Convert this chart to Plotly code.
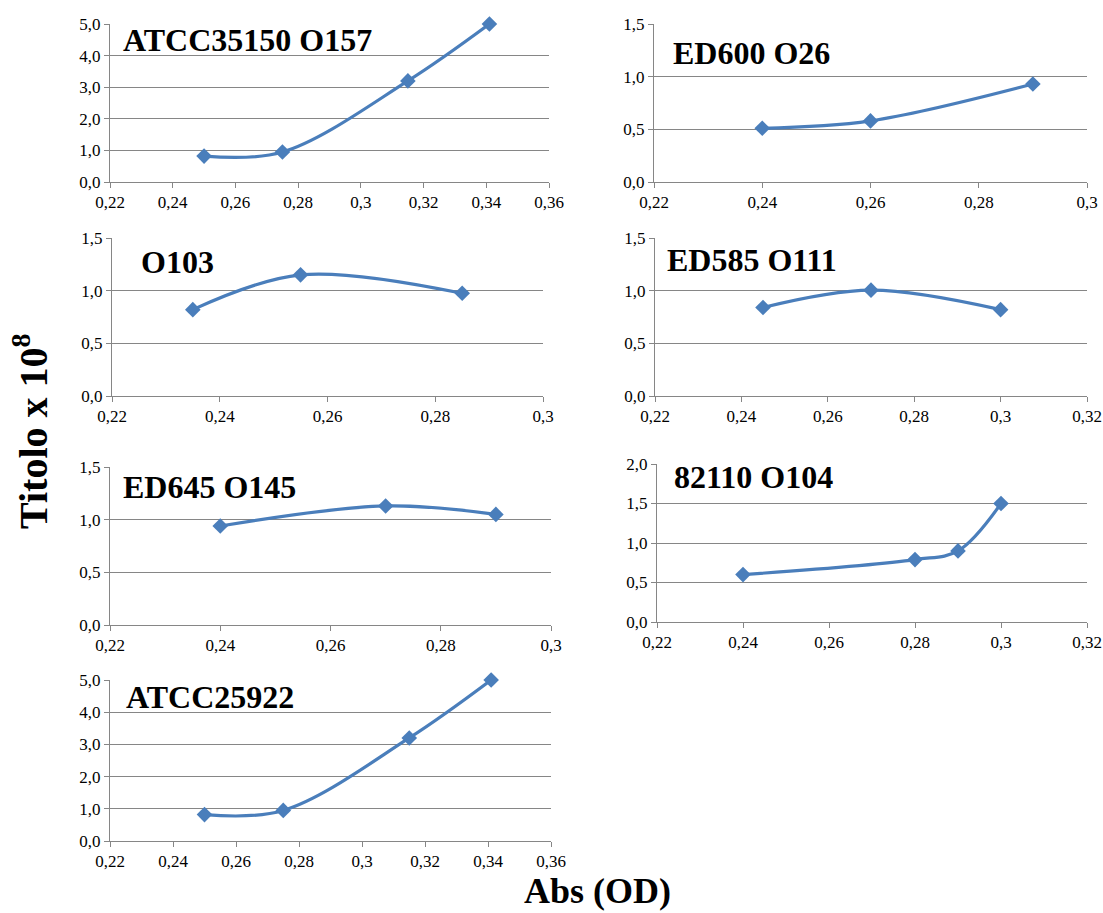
import plotly.graph_objects as go

# Calibration curves: absorbance (OD) vs titre (x 10^8)
names = ["ATCC35150 O157", "ED600 O26", "O103", "ED585 O111",
         "ED645 O145", "82110 O104", "ATCC25922"]

abs_o157 = [0.25, 0.275, 0.315, 0.341]
tit_o157 = [0.82, 0.95, 3.2, 5.0]

abs_o26 = [0.24, 0.26, 0.29]
tit_o26 = [0.51, 0.58, 0.93]

abs_o103 = [0.235, 0.255, 0.285]
tit_o103 = [0.82, 1.15, 0.975]

abs_o111 = [0.245, 0.27, 0.30]
tit_o111 = [0.84, 1.005, 0.82]

abs_o145 = [0.24, 0.27, 0.29]
tit_o145 = [0.94, 1.13, 1.05]

abs_o104 = [0.24, 0.28, 0.29, 0.30]
tit_o104 = [0.60, 0.79, 0.90, 1.50]

abs_25922 = [0.25, 0.275, 0.315, 0.341]
tit_25922 = [0.82, 0.95, 3.2, 5.0]

xs = [abs_o157, abs_o26, abs_o103, abs_o111, abs_o145, abs_o104, abs_25922]
ys = [tit_o157, tit_o26, tit_o103, tit_o111, tit_o145, tit_o104, tit_25922]

x_ranges = [(0.22, 0.36), (0.22, 0.30), (0.22, 0.30), (0.22, 0.32),
            (0.22, 0.30), (0.22, 0.32), (0.22, 0.36)]
y_ranges = [(0, 5, 1), (0, 1.5, 0.5), (0, 1.5, 0.5), (0, 1.5, 0.5),
            (0, 1.5, 0.5), (0, 2.0, 0.5), (0, 5, 1)]

W, H = 1103, 913
# plot-area boxes in pixels: left, right, top, bottom
boxes = [(110, 549, 24, 182), (654, 1087, 24, 182),
         (112, 543, 238, 396), (655, 1087, 238, 396),
         (110, 551, 467, 625), (657, 1087, 464, 622),
         (110, 551, 680, 841)]
# panel label positions (left x, vertical centre y) in pixels
label_pos = [(121, 40), (671, 53), (139, 262), (665, 260),
             (121, 487), (672, 477), (124, 697)]

LINE = "#4A7EBB"
GRID = "#868686"
FONT = "Liberation Serif"

fig = go.Figure()
layout = dict(
    width=W, height=H, margin=dict(l=0, r=0, t=0, b=0, autoexpand=False),
    paper_bgcolor="white", plot_bgcolor="white",
    showlegend=False, separators=", ",
    font=dict(family=FONT, size=17, color="black"),
)
annotations = []

for i in range(7):
    k = "" if i == 0 else str(i + 1)
    l, r, t, b = boxes[i]
    fig.add_trace(go.Scatter(
        x=xs[i], y=ys[i], mode="lines+markers", cliponaxis=False,
        line=dict(color=LINE, width=3.2, shape="spline", smoothing=1),
        marker=dict(symbol="diamond", size=12, color=LINE),
        xaxis="x" + k, yaxis="y" + k, hoverinfo="skip",
    ))
    x0, x1 = x_ranges[i]
    y0, y1, dy = y_ranges[i]
    layout["xaxis" + k] = dict(
        domain=[l / W, r / W], anchor="y" + k, range=[x0, x1],
        tick0=0.22, dtick=0.02, showgrid=False, zeroline=False,
        showline=True, linecolor=GRID, linewidth=1, automargin=False,
        ticks="outside", ticklen=5, tickcolor=GRID,
        tickfont=dict(family=FONT, size=17, color="black"),
    )
    layout["yaxis" + k] = dict(
        domain=[1 - b / H, 1 - t / H], anchor="x" + k, range=[y0, y1],
        dtick=dy, tickformat=".1f", showgrid=True, gridcolor=GRID,
        gridwidth=1, zeroline=False, showline=True, linecolor=GRID,
        linewidth=1, automargin=False, ticks="outside", ticklen=5,
        tickcolor=GRID,
        tickfont=dict(family=FONT, size=17, color="black"),
    )
    lx, ly = label_pos[i]
    annotations.append(dict(
        text="<b>%s</b>" % names[i], xref="paper", yref="paper",
        x=lx / W, y=1 - ly / H, xanchor="left", yanchor="middle",
        showarrow=False, font=dict(family=FONT, size=32, color="black"),
    ))

annotations.append(dict(
    text="<b>Abs (OD)</b>", xref="paper", yref="paper",
    x=597 / W, y=1 - 891 / H, xanchor="center", yanchor="middle",
    showarrow=False, font=dict(family=FONT, size=36, color="black"),
))
annotations.append(dict(
    text="<b>Titolo x 10<sup>8</sup></b>", xref="paper", yref="paper",
    x=30 / W, y=1 - 431 / H, xanchor="center", yanchor="middle",
    textangle=-90, showarrow=False,
    font=dict(family=FONT, size=40, color="black"),
))
layout["annotations"] = annotations

fig.update_layout(**layout)
fig.write_html("out.html")
